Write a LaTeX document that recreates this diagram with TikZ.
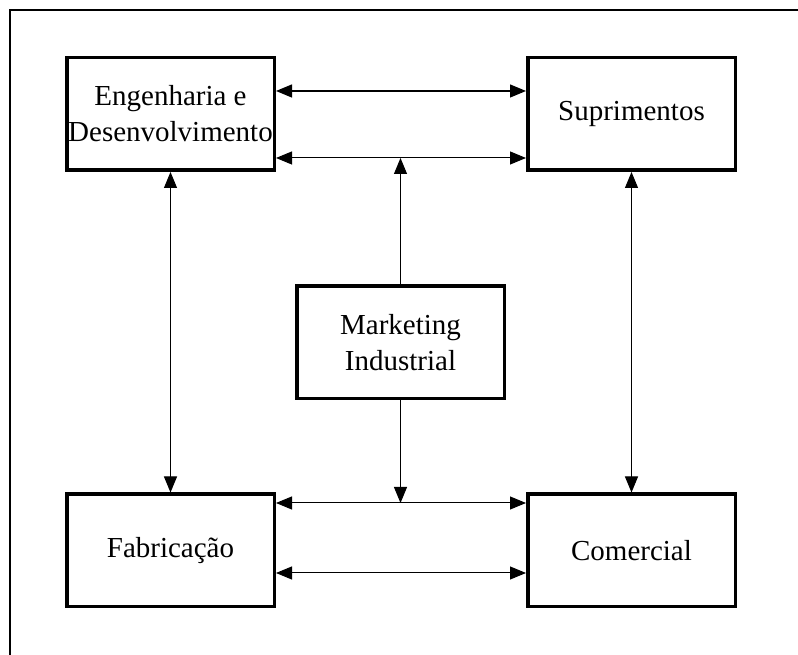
\documentclass[tikz,border=0pt]{standalone}
\usepackage{fontspec}
\setmainfont{Liberation Serif}
\usetikzlibrary{arrows.meta}
\tikzset{
  box/.style={draw=black, line width=3.5pt, minimum width=207.5pt, minimum height=112.5pt,
    inner sep=0pt, align=center, font=\fontsize{29}{36}\selectfont},
  link/.style={line width=1pt, {Triangle[length=16pt,width=13pt]}-{Triangle[length=16pt,width=13pt]}},
  onelink/.style={line width=1pt, -{Triangle[length=16pt,width=13pt]}},
  frame/.style={line width=2pt}
}
\begin{document}
\begin{tikzpicture}[x=1pt,y=1pt]
\useasboundingbox (0,0) rectangle (798,655);
\draw[frame] (10,0) -- (10,645) -- (798,645);
\node[box] (eng) at (170.5,541) {Engenharia e\\Desenvolvimento};
\node[box] (sup) at (631.5,541) {Suprimentos};
\node[box] (fab) at (170.5,104.5) {Fabricação};
\node[box] (com) at (631.5,104.5) {Comercial};
\node[box] (mkt) at (400.5,312.5) {Marketing\\Industrial};
\coordinate (t2) at ([yshift=-44pt]eng.east);
\coordinate (b1) at ([yshift=47.5pt]fab.east);
\draw[link, line width=1.3pt] ([yshift=23pt]eng.east) -- ([yshift=23pt]sup.west);
\draw[link] (t2) -- ([yshift=-44pt]sup.west);
\draw[link] (b1) -- ([yshift=47.5pt]com.west);
\draw[link] ([yshift=-22.5pt]fab.east) -- ([yshift=-22.5pt]com.west);
\draw[link] (eng.south) -- (fab.north);
\draw[link] (sup.south) -- (com.north);
\draw[onelink] (mkt.north) -- (mkt.north |- t2);
\draw[onelink] (mkt.south) -- (mkt.south |- b1);
\end{tikzpicture}
\end{document}
